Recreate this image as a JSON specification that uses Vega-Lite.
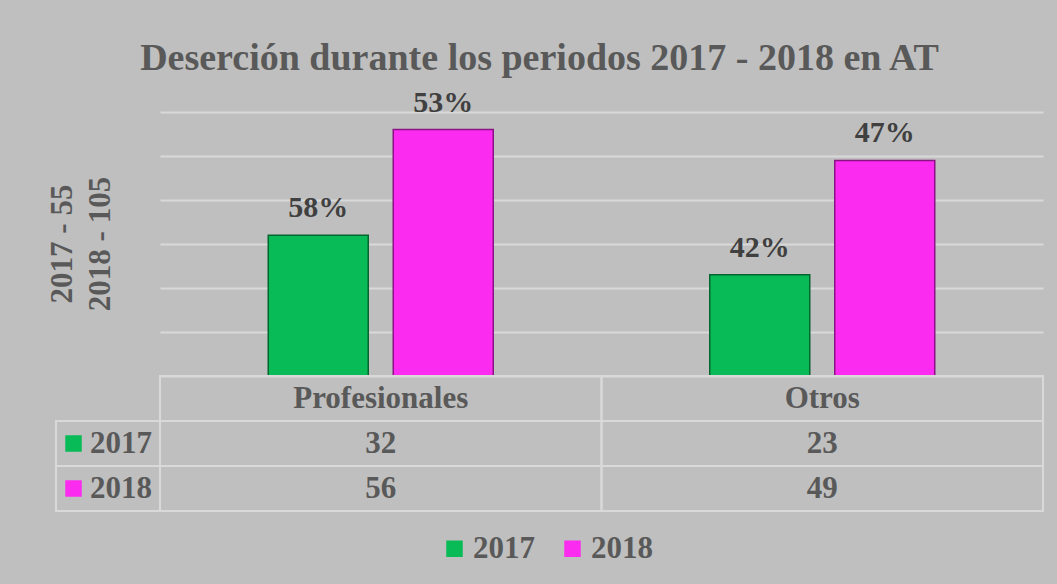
{
  "$schema": "https://vega.github.io/schema/vega-lite/v6.json",
  "background": "#bfbfbf",
  "padding": {"left": 46, "top": 39, "right": 14, "bottom": 20},
  "bounds": "flush",
  "spacing": 0,
  "columns": 2,
  "title": {
    "text": "Deserción durante los periodos 2017 - 2018 en AT",
    "font": "Liberation Serif",
    "fontSize": 38,
    "fontWeight": "bold",
    "color": "#595959",
    "anchor": "middle",
    "offset": 10,
    "dx": -6
  },
  "datasets": {
    "datos": [
      {"categoria": "Profesionales", "anio": "2017", "valor": 32, "porcentaje": "58%"},
      {"categoria": "Profesionales", "anio": "2018", "valor": 56, "porcentaje": "53%"},
      {"categoria": "Otros", "anio": "2017", "valor": 23, "porcentaje": "42%"},
      {"categoria": "Otros", "anio": "2018", "valor": 49, "porcentaje": "47%"}
    ]
  },
  "config": {
    "view": {"stroke": null},
    "font": "Liberation Serif",
    "legend": {"layout": {"bottom": {"anchor": "middle"}}}
  },
  "concat": [
    {
      "width": 104,
      "height": 264,
      "data": {"values": [{"eje": "y"}]},
      "mark": {
        "type": "text",
        "text": ["2017 - 55", "2018 - 105"],
        "angle": 270,
        "font": "Liberation Serif",
        "fontSize": 31,
        "fontWeight": "bold",
        "color": "#595959",
        "align": "center",
        "baseline": "middle",
        "lineHeight": 38,
        "dy": -45
      },
      "encoding": {}
    },
    {
      "width": 883,
      "height": 264,
      "data": {"name": "datos"},
      "encoding": {
        "x": {"field": "categoria", "type": "nominal", "sort": ["Profesionales", "Otros"], "scale": {"paddingInner": 0, "paddingOuter": 0}, "axis": null},
        "xOffset": {"field": "anio", "type": "nominal", "scale": {"paddingInner": 0.2, "paddingOuter": 0.866}},
        "y": {
          "field": "valor",
          "type": "quantitative",
          "scale": {"domain": [0, 60]},
          "axis": {"values": [0, 10, 20, 30, 40, 50, 60], "labels": false, "ticks": false, "domain": false, "title": null, "grid": true, "gridColor": "#d9d9d9", "gridWidth": 2}
        }
      },
      "layer": [
        {
          "mark": {"type": "bar", "strokeWidth": 1.5},
          "encoding": {
            "color": {
              "field": "anio",
              "type": "nominal",
              "scale": {"domain": ["2017", "2018"], "range": ["#08bb57", "#fb2bef"]},
              "legend": {
                "title": null,
                "orient": "bottom",
                "direction": "horizontal",
                "symbolType": "square",
                "symbolSize": 272,
                "symbolStrokeWidth": 0,
                "labelFont": "Liberation Serif",
                "labelFontSize": 31,
                "labelFontWeight": "bold",
                "labelColor": "#595959",
                "columnPadding": 22,
                "labelOffset": 3,
                "offset": 21
              }
            },
            "stroke": {
              "field": "anio",
              "type": "nominal",
              "scale": {"domain": ["2017", "2018"], "range": ["#04662e", "#8a1285"]},
              "legend": null
            }
          }
        },
        {
          "mark": {"type": "text", "font": "Liberation Serif", "fontSize": 30, "fontWeight": "bold", "color": "#404040", "baseline": "alphabetic", "dy": -18},
          "encoding": {"text": {"field": "porcentaje"}}
        }
      ]
    },
    {
      "width": 104,
      "height": 135,
      "data": {"name": "datos"},
      "transform": [{"filter": "datum.categoria == 'Profesionales'"}],
      "encoding": {
        "y": {"field": "anio", "type": "nominal", "scale": {"domain": ["encabezado", "2017", "2018"], "paddingInner": 0, "paddingOuter": 0}, "axis": null}
      },
      "layer": [
        {"mark": {"type": "rect", "fill": "transparent", "stroke": "#d9d9d9", "strokeWidth": 2}},
        {
          "mark": {"type": "point", "shape": "square", "filled": true, "size": 272, "opacity": 1},
          "encoding": {
            "x": {"datum": "símbolo", "type": "nominal", "scale": {"type": "point", "domain": ["símbolo", "año"], "padding": 0.595, "align": 0.31}, "axis": null},
            "color": {"field": "anio", "type": "nominal"}
          }
        },
        {
          "mark": {"type": "text", "font": "Liberation Serif", "fontSize": 31, "fontWeight": "bold", "color": "#595959", "baseline": "middle"},
          "encoding": {
            "x": {"datum": "año", "type": "nominal"},
            "text": {"field": "anio"}
          }
        }
      ]
    },
    {
      "width": 883,
      "height": 135,
      "data": {"name": "datos"},
      "encoding": {
        "x": {"field": "categoria", "type": "nominal", "sort": ["Profesionales", "Otros"], "scale": {"paddingInner": 0, "paddingOuter": 0}, "axis": null}
      },
      "layer": [
        {
          "encoding": {
            "y": {"field": "anio", "type": "nominal", "scale": {"domain": ["encabezado", "2017", "2018"], "paddingInner": 0, "paddingOuter": 0}, "axis": null}
          },
          "layer": [
            {"mark": {"type": "rect", "fill": "transparent", "stroke": "#d9d9d9", "strokeWidth": 2}},
            {
              "mark": {"type": "text", "font": "Liberation Serif", "fontSize": 31, "fontWeight": "bold", "color": "#595959", "baseline": "middle"},
              "encoding": {"text": {"field": "valor", "type": "quantitative"}}
            }
          ]
        },
        {
          "transform": [{"filter": "datum.anio == '2017'"}],
          "encoding": {
            "y": {"datum": "encabezado", "type": "nominal"}
          },
          "layer": [
            {"mark": {"type": "rect", "fill": "transparent", "stroke": "#d9d9d9", "strokeWidth": 2}},
            {
              "mark": {"type": "text", "font": "Liberation Serif", "fontSize": 31, "fontWeight": "bold", "color": "#595959", "baseline": "middle"},
              "encoding": {"text": {"field": "categoria"}}
            }
          ]
        }
      ]
    }
  ]
}
